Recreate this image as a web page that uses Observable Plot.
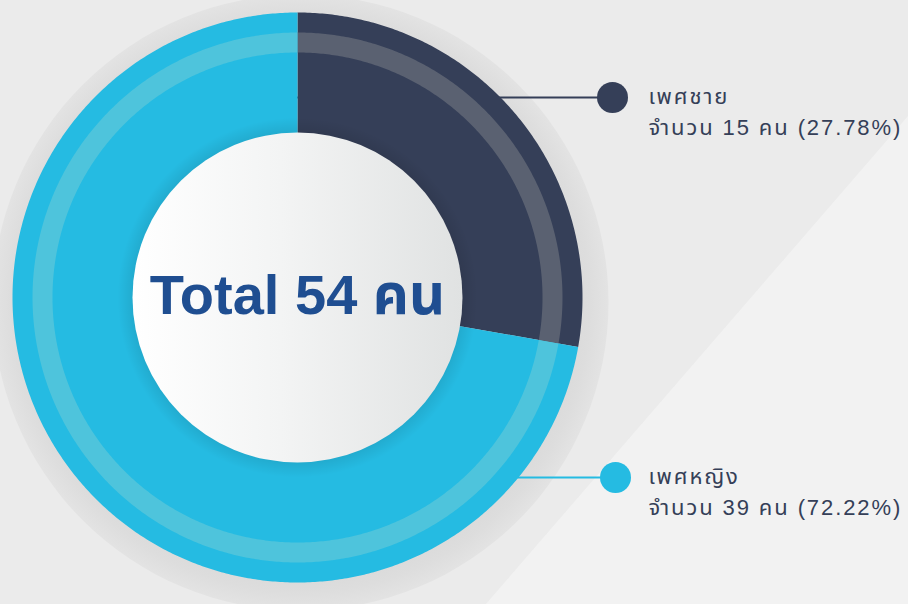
<!DOCTYPE html>
<html><head><meta charset="utf-8">
<script src="https://cdn.jsdelivr.net/npm/d3@7"></script>
<script src="https://cdn.jsdelivr.net/npm/@observablehq/plot@0.6"></script>
<style>html,body{margin:0;padding:0;background:#ebebeb;overflow:hidden}</style>
</head><body><div id="chart"></div>
<script>
// ---- data ----
const categories = ["เพศชาย", "เพศหญิง"];
const counts = [15, 39];
const unitLabel = "คน";
const countPrefix = "จำนวน";
const totalLabel = "Total";

// ---- styles / layout (not data) ----
const sliceColors = ["#353f58", "#25bbe2"];
const ringColors = ["#5a6171", "#4ec4dc"];
const textColor = "#353f58";
const totalColor = "#1f4e91";
const W = 908, H = 604;
const CX = 297, CY = 297;
const R_OUT = 285, R_IN = 165, RING_OUT = 265, RING_IN = 245;
const leaderY = [97, 477];
const dotX = [612, 615];
const textX = 648;
const lineGap = 31;

const total = d3.sum(counts);
const pie = d3.pie().sort(null).value(d => d)(counts);

function arcPolygon(a0, a1, r0, r1, key, color) {
  const n = Math.max(2, Math.ceil((a1 - a0) / (Math.PI / 360)));
  const pts = [];
  for (let i = 0; i <= n; i++) { const a = a0 + (a1 - a0) * i / n; pts.push({x: CX + r1 * Math.sin(a), y: CY - r1 * Math.cos(a), key, color}); }
  for (let i = n; i >= 0; i--) { const a = a0 + (a1 - a0) * i / n; pts.push({x: CX + r0 * Math.sin(a), y: CY - r0 * Math.cos(a), key, color}); }
  return pts;
}

const slicePts = pie.flatMap((p, i) => arcPolygon(p.startAngle, p.endAngle, R_IN - 4, R_OUT, "s" + i, sliceColors[i]));
const ringPts = pie.flatMap((p, i) => arcPolygon(p.startAngle, p.endAngle, RING_IN, RING_OUT, "r" + i, ringColors[i]));

const bgPoly = [
  {x: W, y: 115, key: "bg", color: "#f2f2f2"},
  {x: 485, y: H, key: "bg", color: "#f2f2f2"},
  {x: W, y: H, key: "bg", color: "#f2f2f2"}
];

const leaders = categories.flatMap((c, i) => [
  {x: CX, y: leaderY[i], key: c, color: sliceColors[i]},
  {x: dotX[i], y: leaderY[i], key: c, color: sliceColors[i]}
]);

const labels = categories.map((c, i) => ({
  name: c,
  detail: `${countPrefix} ${counts[i]} ${unitLabel} (${(counts[i] / total * 100).toFixed(2)}%)`,
  x: textX, y1: leaderY[i] + 6, y2: leaderY[i] + 6 + lineGap,
  dx: dotX[i], dy: leaderY[i], color: sliceColors[i]
}));

const fontFamily = "'Liberation Sans', 'Noto Sans Thai', 'Noto Sans', sans-serif";

const svg = Plot.plot({
  width: W, height: H, margin: 0,
  x: {domain: [0, W], range: [0, W], axis: null},
  y: {domain: [0, H], range: [0, H], axis: null},
  color: {type: "identity"},
  style: {background: "#ebebeb", fontFamily},
  marks: [
    Plot.line(bgPoly, {x: "x", y: "y", z: "key", fill: "color", stroke: "none"}),
    Plot.dot([{x: CX + 3, y: CY + 5}], {x: "x", y: "y", r: 308, fill: "url(#haloGrad)"}),
    Plot.line(leaders, {x: "x", y: "y", z: "key", stroke: "color", strokeWidth: 2}),
    Plot.line(slicePts, {x: "x", y: "y", z: "key", fill: "color", stroke: "none"}),
    Plot.line(ringPts, {x: "x", y: "y", z: "key", fill: "color", stroke: "none"}),
    Plot.dot([{x: CX, y: CY}], {x: "x", y: "y", r: 180, fill: "url(#shadowGrad)"}),
    Plot.dot([{x: CX, y: CY}], {x: "x", y: "y", r: R_IN, fill: "url(#innerGrad)"}),
    Plot.text([{x: CX, y: 313, t: `${totalLabel} ${total} ${unitLabel}`}], {x: "x", y: "y", text: "t", fontSize: 56, fontWeight: 700, fill: totalColor, textAnchor: "middle", lineAnchor: "bottom"}),
    Plot.dot(labels, {x: "dx", y: "dy", r: 15.5, fill: "color"}),
    Plot.text(labels, {x: "x", y: "y1", text: "name", fontSize: 22, fill: textColor, textAnchor: "start", lineAnchor: "bottom"}),
    Plot.text(labels, {x: "x", y: "y2", text: "detail", fontSize: 22, fill: textColor, textAnchor: "start", lineAnchor: "bottom"})
  ]
});

d3.select(svg).selectAll('g[font-size="22"]').attr("letter-spacing", "1.9px");

const defs = d3.select(svg).insert("defs", ":first-child");
const ig = defs.append("linearGradient").attr("id", "innerGrad").attr("x1", 0).attr("x2", 1).attr("y1", 0).attr("y2", 0);
ig.append("stop").attr("offset", "0%").attr("stop-color", "#ffffff");
ig.append("stop").attr("offset", "45%").attr("stop-color", "#f3f4f4");
ig.append("stop").attr("offset", "100%").attr("stop-color", "#e0e2e2");
const hg = defs.append("radialGradient").attr("id", "haloGrad");
hg.append("stop").attr("offset", "85%").attr("stop-color", "#d8d8d8");
hg.append("stop").attr("offset", "94%").attr("stop-color", "#dddddd");
hg.append("stop").attr("offset", "100%").attr("stop-color", "#e3e3e3");
const sg = defs.append("radialGradient").attr("id", "shadowGrad");
sg.append("stop").attr("offset", "88%").attr("stop-color", "#000").attr("stop-opacity", 0.2);
sg.append("stop").attr("offset", "92%").attr("stop-color", "#000").attr("stop-opacity", 0.08);
sg.append("stop").attr("offset", "100%").attr("stop-color", "#000").attr("stop-opacity", 0);

document.getElementById("chart").appendChild(svg);
</script>
</body></html>
